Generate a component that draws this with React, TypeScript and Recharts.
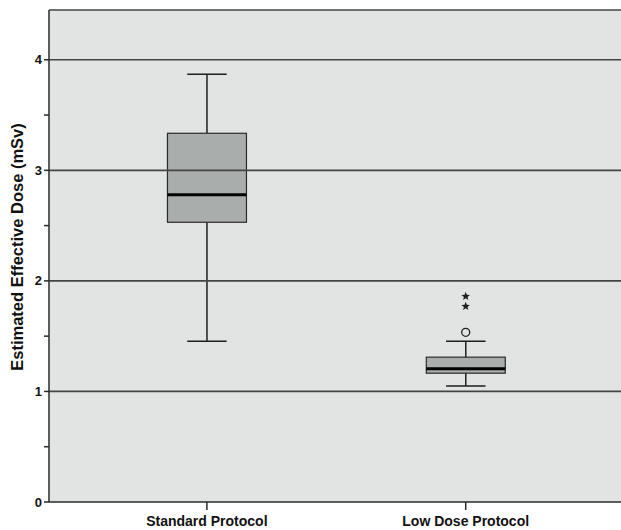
import React from "react";
import {
  ComposedChart,
  Bar,
  Scatter,
  XAxis,
  YAxis,
  CartesianGrid,
  ReferenceLine,
} from "recharts";

const protocols = ["Standard Protocol", "Low Dose Protocol"];
const whiskerLow = [1.455, 1.05];
const quartile1 = [2.53, 1.165];
const medians = [2.78, 1.205];
const quartile3 = [3.335, 1.31];
const whiskerHigh = [3.87, 1.455];

const outlierValues = [1.535, 1.77, 1.86];
const outlierKinds = ["circle", "star", "star"];
const outlierGroup = [1, 1, 1];

const yTicks = [0, 0.5, 1, 1.5, 2, 2.5, 3, 3.5, 4];
const gridValues = [1, 2, 3, 4];
const yMax = 4.45;

const boxData = protocols.map((name, i) => ({
  pos: i,
  name,
  min: whiskerLow[i],
  q1: quartile1[i],
  median: medians[i],
  q3: quartile3[i],
  max: whiskerHigh[i],
  range: [whiskerLow[i], whiskerHigh[i]],
}));

const outliers = outlierValues.map((value, i) => ({
  pos: outlierGroup[i],
  value,
  kind: outlierKinds[i],
}));

const ink = "#1e1e1e";

function BoxShape(props: any) {
  const { x, y, width, height, payload } = props;
  const span = payload.max - payload.min;
  const py = (v: number) => y + (height * (payload.max - v)) / span;
  const cx = x + width / 2;
  const cap = width * 0.25;
  return (
    <g>
      <line x1={cx} x2={cx} y1={py(payload.max)} y2={py(payload.q3)} stroke={ink} strokeWidth={1.5} />
      <line x1={cx} x2={cx} y1={py(payload.q1)} y2={py(payload.min)} stroke={ink} strokeWidth={1.5} />
      <line x1={cx - cap} x2={cx + cap} y1={py(payload.max)} y2={py(payload.max)} stroke={ink} strokeWidth={1.5} />
      <line x1={cx - cap} x2={cx + cap} y1={py(payload.min)} y2={py(payload.min)} stroke={ink} strokeWidth={1.5} />
      <rect
        x={x}
        y={py(payload.q3)}
        width={width}
        height={py(payload.q1) - py(payload.q3)}
        fill="#a9adab"
        stroke="#2a2a2a"
        strokeWidth={1.2}
      />
      <line x1={x} x2={x + width} y1={py(payload.median)} y2={py(payload.median)} stroke="#000" strokeWidth={3} />
    </g>
  );
}

function OutlierShape(props: any) {
  const { cx, cy, payload } = props;
  if (payload.kind === "circle") {
    return <circle cx={cx} cy={cy} r={4} fill="none" stroke={ink} strokeWidth={1.3} />;
  }
  const pts: string[] = [];
  for (let k = 0; k < 10; k++) {
    const r = k % 2 === 0 ? 4.5 : 1.9;
    const a = -Math.PI / 2 + (k * Math.PI) / 5;
    pts.push(`${cx + r * Math.cos(a)},${cy + r * Math.sin(a)}`);
  }
  return <polygon points={pts.join(" ")} fill={ink} />;
}

function YTitle(props: any) {
  const vb = props.viewBox || {};
  const cx = 17;
  const cy = (vb.y ?? 10) + (vb.height ?? 492) / 2 - 9;
  return (
    <text
      x={cx}
      y={cy}
      transform={`rotate(-90, ${cx}, ${cy})`}
      textAnchor="middle"
      dominantBaseline="central"
      fill="#111"
      fontSize={16.5}
      fontWeight="bold"
    >
      Estimated Effective Dose (mSv)
    </text>
  );
}

export default function App() {
  return (
    <div style={{ position: "absolute", left: 0, top: 0, fontFamily: "Liberation Sans, Arial, sans-serif" }}>
      <ComposedChart
        width={621}
        height={530}
        data={boxData}
        margin={{ top: 10, right: 0, bottom: 0, left: 0 }}
      >
        <CartesianGrid fill="#e1e4e2" horizontal={false} vertical={false} />
        {gridValues.map((v) => (
          <ReferenceLine key={v} y={v} stroke="#444" strokeWidth={1.7} />
        ))}
        <ReferenceLine y={yMax} stroke="#444" strokeWidth={1.7} />
        <XAxis
          type="number"
          dataKey="pos"
          domain={[-0.61, 1.6]}
          allowDataOverflow
          ticks={[0, 1]}
          tickFormatter={(i: number) => protocols[i] ?? ""}
          height={28}
          tickSize={8}
          tickMargin={6}
          stroke="#2a2a2a"
          strokeWidth={1.5}
          tick={{ fill: "#111", fontSize: 14, fontWeight: "bold" }}
        />
        <YAxis
          type="number"
          domain={[0, yMax]}
          allowDataOverflow
          ticks={yTicks}
          interval={0}
          width={49}
          tickSize={5}
          tickMargin={2}
          tickFormatter={(v: number) => (Number.isInteger(v) ? String(v) : "")}
          stroke="#2a2a2a"
          strokeWidth={1.5}
          tick={{ fill: "#111", fontSize: 13, fontWeight: "bold" }}
          label={<YTitle />}
        />
        <Bar dataKey="range" barSize={79} shape={BoxShape} isAnimationActive={false} />
        <Scatter data={outliers} dataKey="value" shape={OutlierShape} isAnimationActive={false} />
      </ComposedChart>
    </div>
  );
}
